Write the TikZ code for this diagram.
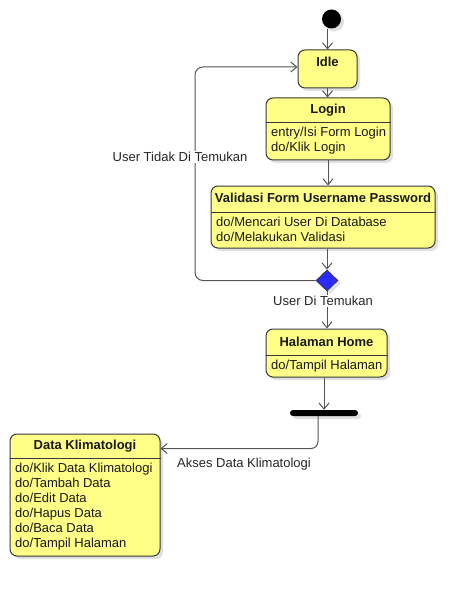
\documentclass[tikz,border=0pt]{standalone}
\usepackage{fontspec}
\setmainfont{Liberation Sans}
\usetikzlibrary{arrows.meta,shapes.geometric,shadows,calc}
\definecolor{stateyellow}{HTML}{FFFF88}
\definecolor{stateline}{HTML}{36393D}
\definecolor{edgegray}{HTML}{555555}
\definecolor{choiceblue}{HTML}{2B2BFF}
\tikzset{
  shade3/.style={drop shadow={shadow xshift=3pt,shadow yshift=-3pt,fill=black,opacity=0.12}},
  statebox/.style={draw=stateline,fill=stateyellow,rounded corners=7pt,line width=1pt,
    inner sep=0pt,shade3},
  title/.style={font=\fontsize{13}{15}\selectfont\bfseries,text=black!90,inner sep=0pt},
  body/.style={font=\fontsize{13}{15}\selectfont,text=black!90,inner sep=0pt,align=left,anchor=west},
  arr/.style={draw=edgegray,line width=1pt,-{Straight Barb[length=6pt,width=10pt,line width=1pt]}},
  lbl/.style={font=\fontsize{13}{15}\selectfont,text=black!85,fill=white,inner sep=1pt}
}
\begin{document}
\begin{tikzpicture}[x=1pt,y=-1pt]
  \useasboundingbox (0,0) rectangle (475,596);

  % initial pseudo-state
  \node[circle,fill=black,minimum size=19pt,inner sep=0pt,shade3] (init) at (331.5,19) {};

  % Idle
  \node[statebox,minimum width=59pt,minimum height=38pt] (idle) at (327.5,69) {};
  \node[title] (idlet) at (327.5,62) {Idle};

  % Login
  \node[statebox,minimum width=124pt,minimum height=62pt] (login) at (328,129) {};
  \node[title] (logint) at (328,110) {Login};
  \draw[stateline,line width=1pt] (login.west |- 0,123) -- (login.east |- 0,123);
  \node[body] (loginb) at (271,140.5) {entry/Isi Form Login\\do/Klik Login};

  % Validasi
  \node[statebox,minimum width=224pt,minimum height=62pt] (val) at (323,217) {};
  \node[title] (valt) at (323,198) {Validasi Form Username Password};
  \draw[stateline,line width=1pt] (val.west |- 0,212) -- (val.east |- 0,212);
  \node[body] (valb) at (216,229) {do/Mencari User Di Database\\do/Melakukan Validasi};

  % choice
  \node[diamond,draw=stateline,fill=choiceblue,minimum width=22pt,minimum height=21pt,
    inner sep=0pt,line width=0.8pt,shade3] (dia) at (327,280.5) {};

  % Halaman Home
  \node[statebox,minimum width=121pt,minimum height=48pt] (home) at (326.5,353) {};
  \node[title] (homet) at (326.5,342) {Halaman Home};
  \draw[stateline,line width=1pt] (home.west |- 0,355) -- (home.east |- 0,355);
  \node[body] (homeb) at (271,366) {do/Tampil Halaman};

  % fork bar
  \node[fill=black,rounded corners=3pt,minimum width=68pt,minimum height=6pt,inner sep=0pt,
    shade3] (bar) at (324,413) {};

  % Data Klimatologi
  \node[statebox,minimum width=150pt,minimum height=122pt] (dk) at (85,495) {};
  \node[title] (dkt) at (85,446) {Data Klimatologi};
  \draw[stateline,line width=1pt] (dk.west |- 0,458) -- (dk.east |- 0,458);
  \node[body] (dkb) at (15,506.5) {do/Klik Data Klimatologi\\do/Tambah Data\\do/Edit Data\\
    do/Hapus Data\\do/Baca Data\\do/Tampil Halaman};

  % transitions
  \draw[arr] (init.south -| idle.north) -- (idle.north);
  \draw[arr] (idle.south) -- (idle.south |- login.north);
  \draw[arr] (login.south) -- (login.south |- val.north);
  \draw[arr] (dia.north |- val.south) -- (dia.north);
  \draw[arr,rounded corners=8pt] (dia.west) -| (195,67) -- (idle.west |- 0,67);
  \node[lbl] (notfound) at (180,157) {User Tidak Di Temukan};
  \draw[arr] (dia.south) -- (dia.south |- home.north);
  \node[lbl] (found) at (323,301) {User Di Temukan};
  \draw[arr] (home.south -| bar.north) -- (bar.north);
  \draw[arr,rounded corners=7pt] ($(bar.south)+(-6,0)$) |- ($(dk.north east)+(0,15)$);
  \node[lbl] (akses) at (244,464) {Akses Data Klimatologi};
\end{tikzpicture}
\end{document}
